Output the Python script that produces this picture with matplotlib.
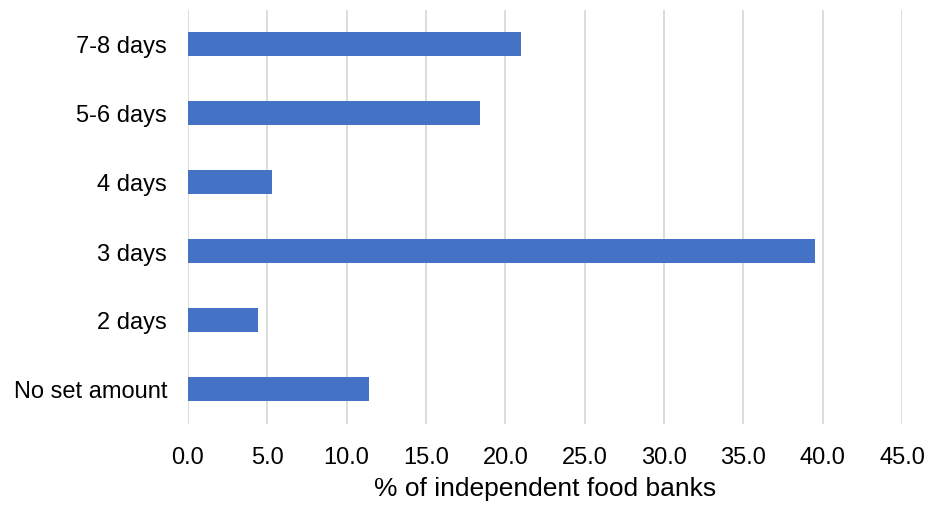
import matplotlib
matplotlib.use("Agg")
import matplotlib.pyplot as plt

categories = ["No set amount", "2 days", "3 days", "4 days", "5-6 days", "7-8 days"]
values = [11.4, 4.4, 39.5, 5.3, 18.4, 21.0]
xticks = [0, 5, 10, 15, 20, 25, 30, 35, 40, 45]

plt.rcParams["font.family"] = ["Liberation Sans", "DejaVu Sans"]

fig = plt.figure(figsize=(9.28, 5.06), dpi=100)
ax = fig.add_axes([188 / 928, 1 - 424.5 / 506, (902 - 188) / 928, 414 / 506])

ax.barh(range(len(categories)), values, height=0.36, color="#4472C4", zorder=3)

ax.set_xlim(0, 45)
ax.set_ylim(-0.5, len(categories) - 0.5)
ax.set_xticks(xticks)
ax.set_xticklabels([f"{t:.1f}" for t in xticks], fontsize=17)
ax.set_yticks(range(len(categories)))
ax.set_yticklabels(categories, fontsize=17)
ax.tick_params(length=0, pad=16, axis="x")
ax.tick_params(length=0, pad=15, axis="y")
ax.grid(axis="x", color="#D9D9D9", linewidth=1.3, zorder=0)
for s in ax.spines.values():
    s.set_visible(False)
ax.set_xlabel("% of independent food banks", fontsize=19, labelpad=6)

fig.savefig("out.png", dpi=100)
